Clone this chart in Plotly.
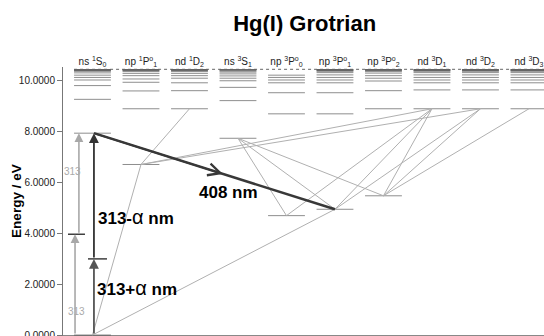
import plotly.graph_objects as go

# ---------------- data ----------------
columns = ["ns <sup>1</sup>S<sub>0</sub>", "np <sup>1</sup>P<sup>o</sup><sub>1</sub>",
           "nd <sup>1</sup>D<sub>2</sub>", "ns <sup>3</sup>S<sub>1</sub>",
           "np <sup>3</sup>P<sup>o</sup><sub>0</sub>", "np <sup>3</sup>P<sup>o</sup><sub>1</sub>",
           "np <sup>3</sup>P<sup>o</sup><sub>2</sub>", "nd <sup>3</sup>D<sub>1</sub>",
           "nd <sup>3</sup>D<sub>2</sub>", "nd <sup>3</sup>D<sub>3</sub>"]

lv_ns1S0 = [0.0, 7.93, 9.26, 9.80, 10.02, 10.12, 10.21, 10.30, 10.36, 10.39, 10.41, 10.42, 10.43]
lv_np1P1 = [6.70, 8.89, 9.59, 9.93, 10.06, 10.19, 10.28, 10.35, 10.39, 10.41, 10.42, 10.43]
lv_nd1D2 = [8.89, 9.60, 9.91, 10.09, 10.19, 10.28, 10.35, 10.39, 10.41, 10.42, 10.43]
lv_ns3S1 = [7.73, 9.21, 9.73, 9.99, 10.09, 10.18, 10.26, 10.33, 10.37, 10.40, 10.42, 10.43]
lv_np3P0 = [4.69, 8.69, 9.52, 9.91, 10.02, 10.12, 10.21]
lv_np3P1 = [4.94, 8.69, 9.52, 9.91, 10.02, 10.12, 10.22, 10.31, 10.36, 10.39, 10.41, 10.42, 10.43]
lv_np3P2 = [5.47, 8.89, 9.60, 9.98, 10.09, 10.19, 10.29, 10.35, 10.39, 10.41, 10.42, 10.43]
lv_nd3D1 = [8.89, 9.63, 9.91, 10.02, 10.12, 10.22, 10.31, 10.36, 10.39, 10.41, 10.42, 10.43]
lv_nd3D2 = [8.89, 9.63, 9.91, 10.02, 10.12, 10.22, 10.31, 10.36, 10.39, 10.41, 10.42, 10.43]
lv_nd3D3 = [8.89, 9.63, 9.91, 10.02, 10.12, 10.22, 10.31, 10.36, 10.39, 10.41, 10.42, 10.43]
levels = [lv_ns1S0, lv_np1P1, lv_nd1D2, lv_ns3S1, lv_np3P0,
          lv_np3P1, lv_np3P2, lv_nd3D1, lv_nd3D2, lv_nd3D3]

ionization_limit = 10.44

# transitions (column, energy) -> (column, energy)
tr_from_col = [0, 0, 1, 1, 1, 3, 3, 3, 4, 5, 5, 6, 6, 6]
tr_from_E = [0.0, 0.0, 6.70, 6.70, 6.70, 7.73, 7.73, 7.73, 4.69, 4.94, 4.94, 5.47, 5.47, 5.47]
tr_to_col = [1, 5, 2, 7, 8, 4, 5, 6, 7, 7, 8, 7, 8, 9]
tr_to_E = [6.70, 4.94, 8.89, 8.89, 8.89, 4.69, 4.94, 5.47, 8.89, 8.89, 8.89, 8.89, 8.89, 8.89]

# highlighted 408 nm emission
em408_from = (0, 7.93)
em408_to = (5, 4.94)

# two-photon excitation (313 nm) energies
E_313_virtual = 3.96
E_alpha_virtual = 2.99
E_target = 7.93

y_ticks = [0, 2, 4, 6, 8, 10]

# ---------------- layout constants ----------------
HALF = 0.38
X_GRAY_LOW = -0.36
X_GRAY_UP = -0.28
X_DARK = 0.03
FONT = "Liberation Sans, Arial"

fig = go.Figure()

# level lines
lx, ly = [], []
for c, lv in enumerate(levels):
    for e in lv:
        lx += [c - HALF, c + HALF, None]
        ly += [e, e, None]
fig.add_trace(go.Scatter(x=lx, y=ly, mode="lines",
                         line=dict(color="rgba(60,60,60,0.58)", width=1),
                         hoverinfo="skip", showlegend=False))

# ionization limit (dotted)
fig.add_trace(go.Scatter(x=[-HALF, 9.6], y=[ionization_limit, ionization_limit], mode="lines",
                         line=dict(color="#666666", width=1, dash="dot"),
                         hoverinfo="skip", showlegend=False))

# transitions
tx, ty = [], []
for c1, e1, c2, e2 in zip(tr_from_col, tr_from_E, tr_to_col, tr_to_E):
    tx += [c1, c2, None]
    ty += [e1, e2, None]
fig.add_trace(go.Scatter(x=tx, y=ty, mode="lines",
                         line=dict(color="#b0b0b0", width=1),
                         hoverinfo="skip", showlegend=False))

# 408 nm line
fig.add_trace(go.Scatter(x=[em408_from[0] + X_DARK, em408_to[0]], y=[em408_from[1], em408_to[1]],
                         mode="lines", line=dict(color="#383838", width=2.5),
                         hoverinfo="skip", showlegend=False))
f = 0.535
mx = em408_from[0] + X_DARK + f * (em408_to[0] - em408_from[0] - X_DARK)
my = em408_from[1] + f * (em408_to[1] - em408_from[1])
fig.add_annotation(x=mx, y=my, ax=em408_from[0] + X_DARK, ay=em408_from[1],
                   xref="x", yref="y", axref="x", ayref="y", text="",
                   showarrow=True, arrowhead=5, arrowsize=1.5, arrowwidth=1.6,
                   arrowcolor="#383838", standoff=0)

# virtual level bars
fig.add_trace(go.Scatter(x=[-0.505, -0.155, None, -0.093, 0.299],
                         y=[E_313_virtual, E_313_virtual, None, E_alpha_virtual, E_alpha_virtual],
                         mode="lines", line=dict(color="#222222", width=1.3),
                         hoverinfo="skip", showlegend=False))

def varrow(x, e0, e1, color, w):
    fig.add_annotation(x=x, y=e1, ax=x, ay=e0, xref="x", yref="y", axref="x", ayref="y",
                       text="", showarrow=True, arrowhead=2, arrowsize=1.1, arrowwidth=w,
                       arrowcolor=color, standoff=0)

varrow(X_GRAY_LOW, 0, E_313_virtual, "#a8a8a8", 1.6)
varrow(X_GRAY_UP, E_313_virtual, E_target, "#a8a8a8", 1.6)
varrow(X_DARK, 0, E_alpha_virtual, "#555555", 1.8)
varrow(X_DARK, E_alpha_virtual, E_target, "#333333", 1.8)

# labels
fig.add_annotation(x=-0.34, y=0.92, text="313", showarrow=False, xref="x", yref="y",
                   xanchor="center", font=dict(family=FONT, size=10, color="#aaaaaa"))
fig.add_annotation(x=-0.42, y=6.42, text="313", showarrow=False, xref="x", yref="y",
                   xanchor="center", font=dict(family=FONT, size=10, color="#aaaaaa"))
lab_font = dict(family=FONT, size=17, color="#000000")
alpha = '<span style="font-size:20px">α</span>'
fig.add_annotation(x=0.05, y=1.85, text="<b>313+</b>" + alpha + "<b> nm</b>", showarrow=False,
                   xref="x", yref="y", xanchor="left", font=lab_font)
fig.add_annotation(x=0.07, y=4.64, text="<b>313-</b>" + alpha + "<b> nm</b>", showarrow=False,
                   xref="x", yref="y", xanchor="left", font=lab_font)
fig.add_annotation(x=2.15, y=5.58, text="<b>408 nm</b>", showarrow=False,
                   xref="x", yref="y", xanchor="left", font=lab_font)

# y title
fig.add_annotation(x=-46 / 481, y=5.27, xref="paper", yref="y", text="<b>Energy / eV</b>",
                   textangle=-90, showarrow=False, xanchor="center", yanchor="middle",
                   font=dict(family=FONT, size=13.5, color="#000000"))

PX_PER_EV = 25.45
ymin = -1 / PX_PER_EV
ymax = ymin + 269 / PX_PER_EV

fig.update_layout(
    width=544, height=336,
    margin=dict(l=63, r=0, t=67, b=0, autoexpand=False),
    paper_bgcolor="white", plot_bgcolor="white",
    title=dict(text="<b>Hg(I) Grotrian</b>", x=0.56, xanchor="center", y=0.932, yanchor="middle",
               font=dict(family=FONT, size=22, color="#000000")),
    xaxis=dict(range=[-0.608, 9.31], side="top", tickmode="array",
               tickvals=list(range(len(columns))), ticktext=columns,
               showgrid=False, zeroline=False, showline=False, ticks="",
               automargin=False, ticklabelstandoff=-1, ticklabeloverflow="allow",
               tickfont=dict(family=FONT, size=10, color="#222222")),
    yaxis=dict(range=[ymin, ymax], tickvals=y_ticks, tickformat=".4f",
               showgrid=False, zeroline=True, zerolinecolor="#888888", zerolinewidth=1,
               showline=True, linecolor="#777777", linewidth=1,
               ticks="outside", ticklen=5, tickcolor="#777777",
               automargin=False, ticklabeloverflow="allow",
               tickfont=dict(family=FONT, size=10, color="#222222")),
    showlegend=False,
)

fig.write_html("out.html", config={"displayModeBar": False},
               post_script="document.body.style.margin='0';document.body.style.overflow='hidden';")
